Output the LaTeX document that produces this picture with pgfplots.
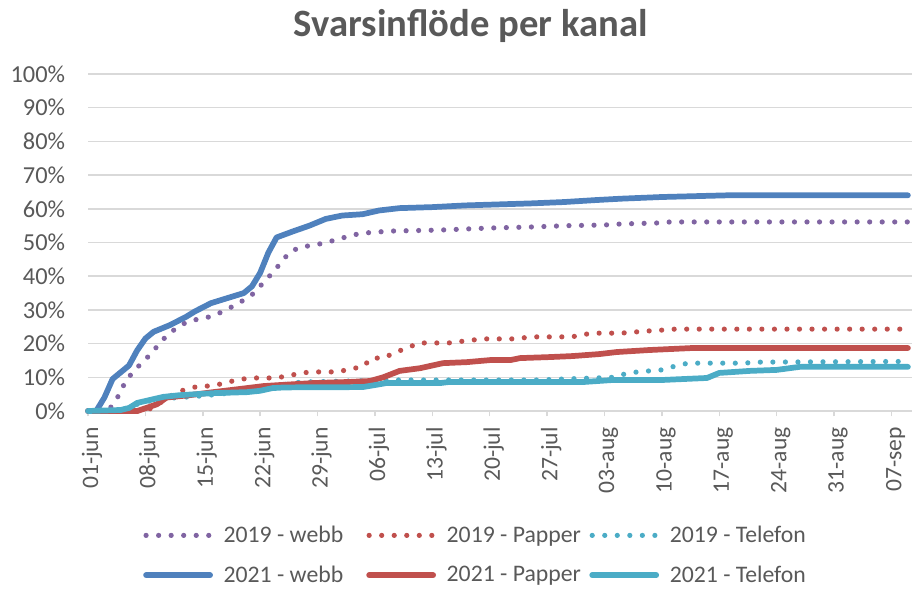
\documentclass[border=0pt]{standalone}
\usepackage{pgfplots}
\pgfplotsset{compat=1.18}
\usepackage{fontspec}
\setmainfont{Carlito}
\definecolor{txt}{HTML}{595959}
\definecolor{gridc}{HTML}{D9D9D9}
\definecolor{cweb}{HTML}{4F81BD}
\definecolor{cpap}{HTML}{C0504D}
\definecolor{ctel}{HTML}{4BACC6}
\definecolor{cpur}{HTML}{8064A2}
\begin{document}
\begin{tikzpicture}
\path[use as bounding box] (0,0) rectangle (685.5pt,442.5pt);
\node[anchor=base, font=\fontsize{29}{34}\selectfont\bfseries, text=txt] at (353pt,414.75pt) {Svarsinflöde per kanal};
\begin{axis}[
 at={(66pt,134.25pt)}, anchor=south west,
 scale only axis, width=618pt, height=252.75pt,
 xmin=0, xmax=100.5, ymin=0, ymax=100,
 clip=false,
 axis lines*=left,
 y axis line style={draw=none},
 x axis line style={draw=gridc, line width=1.1pt},
 ytick={0,10,...,100},
 yticklabel={\pgfmathprintnumber{\tick}\%},
 ymajorgrids, grid style={gridc, line width=1.1pt},
 ytick style={draw=none},
 xtick={0,7,...,98},
 xticklabels={01-jun,08-jun,15-jun,22-jun,29-jun,06-jul,13-jul,20-jul,27-jul,03-aug,10-aug,17-aug,24-aug,31-aug,07-sep},
 xtick style={draw=gridc, line width=1.1pt},
 tick align=outside, major tick length=4pt,
 /pgf/number format/assume math mode=true,
 yticklabel style={font=\fontsize{18.3}{21}\selectfont, text=txt, anchor=east, inner sep=0pt, xshift=-13pt},
 xticklabel style={font=\fontsize{17.7}{21}\selectfont, text=txt, rotate=90, anchor=east, inner sep=0pt, xshift=-8pt, yshift=-3pt},
 legend columns=3,
 legend style={at={(0.0667,-0.333)}, anchor=north west, draw=none, fill=none,
   font=\fontsize{17.8}{21}\selectfont, text=txt, inner sep=0pt,
   row sep=12pt,
   /tikz/every odd column/.append style={column sep=6pt},
   /tikz/every even column/.append style={column sep=8pt}},
 legend image code/.code={\draw[#1] (0pt,0pt) -- (48pt,0pt);},
 dots/.style={line width=3.9pt, line cap=round, dash pattern=on 0pt off 9.4pt},
 solidl/.style={line width=4.3pt, line cap=round, line join=round},
]
% 2019 - webb
\addplot[cpur, dots] coordinates {(0,0) (2.5,0) (3,2) (4,5.5) (4.5,8.6) (5.5,11.6) (6.6,14.4) (7.7,17) (8.7,20) (9.7,22.6) (11,25) (12.3,26.7) (14,27.5) (15.3,28.2) (16.8,30) (18.2,31.7) (20,34.5) (21.6,38.6) (22.6,41.3) (23.6,44.2) (24.6,47.2) (26,48.7) (27.6,49.2) (29,50) (30.6,51) (32.2,52.2) (33.7,52.8) (35.2,53.1) (37,53.4) (43,53.7) (49,54.3) (54,54.6) (58.5,55) (63,55.2) (65,55.5) (69.5,55.8) (71,56.1) (100,56.1)};
\addlegendentry{\makebox[97pt][l]{2019 - webb}}
% 2019 - Papper
\addplot[cpap, dots] coordinates {(0,0) (7,0) (8,1.2) (9.5,3.5) (10.6,5.3) (12,6.5) (13.6,7.4) (15,7.4) (16.7,8.3) (18.1,9.2) (19.8,9.8) (22.8,9.8) (24.4,10.4) (26,11.3) (27.5,11.6) (30.5,11.6) (32,12.5) (33.5,13.1) (34.6,15.7) (36,15.7) (37.6,17.5) (38.9,18.7) (40.4,20.2) (44,20.2) (45,20.5) (46.7,21) (48.2,21.4) (52,21.4) (53,21.7) (54.5,22) (59,22) (60.7,22.8) (62,23.1) (65,23.1) (66.5,23.4) (68,23.7) (70,24) (71.6,24.3) (100,24.3)};
\addlegendentry{\makebox[97pt][l]{2019 - Papper}}
% 2019 - Telefon
\addplot[ctel, dots] coordinates {(0,0) (3,0) (5,1) (6.5,2.5) (8,3.2) (10,3.8) (14,4.5) (18,5.5) (21,6.5) (23,7.5) (26,8.6) (30,8.8) (34,9) (37,9.2) (55,9.2) (58,9.5) (62,9.8) (64,10) (65.5,11) (67,11.6) (68.5,11.9) (70,12.2) (71.7,13.4) (73.2,14.2) (80,14.2) (81.5,14.5) (100,14.7)};
\addlegendentry{\makebox[97pt][l]{2019 - Telefon}}
% 2021 - webb
\addplot[cweb, solidl] coordinates {(0,0) (1,0) (2,4) (3,9.5) (4,11.5) (5,13.5) (6,18) (7,21.5) (8,23.5) (10,25.5) (12,28) (13,29.5) (15,32) (17,33.5) (19,35) (20,37) (21,41) (22,47) (23,51.5) (25,53.3) (27,55) (29,57) (31,58) (33.5,58.4) (35.5,59.5) (38,60.2) (42,60.5) (46,61) (54,61.6) (58,62) (62,62.6) (65,63) (70,63.5) (78,64) (100,64)};
\addlegendentry{\makebox[97pt][l]{2021 - webb}}
% 2021 - Papper
\addplot[cpap, solidl] coordinates {(0,0) (6,0) (7,0.8) (8.4,2) (9.6,4) (12.4,4.7) (15.3,5.6) (19.4,6.8) (21.4,7.4) (23.4,7.7) (27.5,8.3) (31.6,8.6) (34.4,8.9) (36,10) (38,11.9) (40.5,12.7) (43.3,14.2) (46.2,14.5) (49,15.1) (51.5,15.1) (52.7,15.7) (56.3,16) (59.1,16.3) (62.4,16.9) (64.5,17.5) (68.5,18.1) (73.8,18.7) (100,18.7)};
\addlegendentry{\makebox[97pt][l]{2021 - Papper}}
% 2021 - Telefon
\addplot[ctel, solidl] coordinates {(0,0) (4,0.3) (5,0.9) (6,2.4) (7.6,3.3) (9.2,4.2) (11.2,4.7) (15.3,5.3) (19.4,5.6) (21,6) (22.5,6.8) (24,7) (33.5,7.1) (35,7.7) (36.4,8.3) (43,8.3) (44,8.6) (60.4,8.6) (64,9.2) (70,9.2) (75.5,9.8) (77,11.3) (80.7,11.9) (84,12.2) (86.8,13.1) (100,13.1)};
\addlegendentry{\makebox[97pt][l]{2021 - Telefon}}
\end{axis}
\end{tikzpicture}
\end{document}
